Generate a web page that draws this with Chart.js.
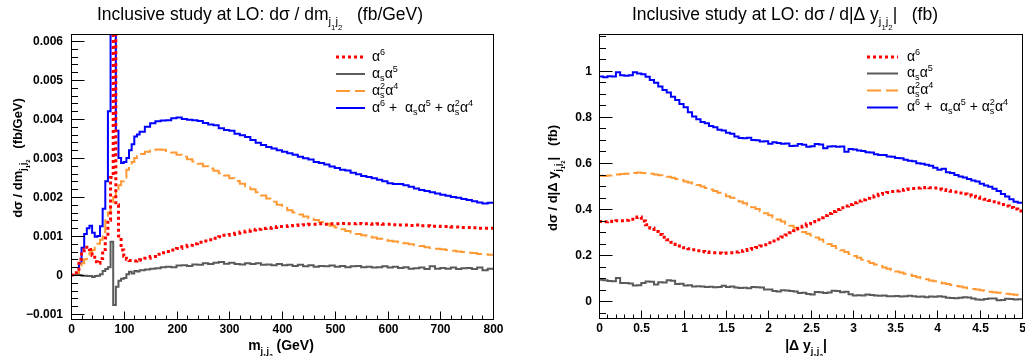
<!DOCTYPE html>
<html>
<head>
<meta charset="utf-8">
<script src="https://cdn.jsdelivr.net/npm/chart.js@4.4.1/dist/chart.umd.min.js"></script>
<style>
    body { margin: 0; background: #fff; width: 1025px; height: 356px; overflow: hidden; position: relative; }
    .pad { position: absolute; top: 0; height: 356px; }
</style>
</head>
<body>
<div class="pad" style="left:0; width:512px;"><canvas id="massChart" width="512" height="356"></canvas></div>
<div class="pad" style="left:512px; width:513px;"><canvas id="dyChart" width="513" height="356"></canvas></div>
<script>

///////////////////////////////////////
// m_jj histograms (fb/GeV): 5 GeV bins up to 130 GeV, 10 GeV bins above
const massEdges = [
    ...Array.from({ length: 26 }, (_, i) => i * 5),
    ...Array.from({ length: 68 }, (_, i) => 130 + i * 10),
]

const massAlpha6 = [
    0, 0, 0.0001, 0.0004, 0.00058, 0.00066, 0.00071, 0.00065, 0.0005, 0.00034,
    0.0003, 0.00042, 0.00065, 0.00095, 0.0014, 0.0025, 0.0075, 0.0018, 0.001, 0.00064,
    0.00048, 0.0004, 0.00037, 0.00036, 0.00036, 0.00038,
    0.00039, 0.00043, 0.00047, 0.00053, 0.00057, 0.0006, 0.00064,
    0.00068, 0.00072, 0.00076, 0.0008, 0.00084, 0.00087, 0.0009, 0.00094, 0.00098, 0.00102,
    0.00104, 0.00107, 0.0011, 0.00112, 0.00115, 0.00117, 0.00119, 0.0012, 0.00122, 0.00124,
    0.00124, 0.00126, 0.00127, 0.00128, 0.00129, 0.0013, 0.0013, 0.00131, 0.0013, 0.00131,
    0.00131, 0.00132, 0.00131, 0.00131, 0.00132, 0.00131, 0.00131, 0.0013, 0.00131, 0.0013,
    0.0013, 0.00129, 0.00128, 0.00128, 0.00127, 0.00128, 0.00126, 0.00126, 0.00125, 0.00125,
    0.00124, 0.00124, 0.00123, 0.00123, 0.00122, 0.00122, 0.00121, 0.0012, 0.0012, 0.0012,
]
const massAlphaS = [
    0, 0, 0, 0, -0.00002, -0.00002, -0.00003, -0.00003, -0.00005, -0.00003,
    -0.00002, 0.00002, 0.0001, 0.00015, 0.0002, 0.00085, -0.00077, -0.0003, -0.00015, -0.0001,
    -0.00008, 0.00002, 0.00008, 0.00004, 0.0001, 0.00009,
    0.00012, 0.00014, 0.00016, 0.00017, 0.0002, 0.00021, 0.0002,
    0.00024, 0.00025, 0.00023, 0.00027, 0.00026, 0.0003, 0.00028, 0.00031, 0.00033, 0.00029,
    0.00031, 0.00028, 0.00027, 0.0003, 0.00028, 0.0003, 0.00026, 0.00027, 0.00025, 0.00028,
    0.00025, 0.00026, 0.00023, 0.00026, 0.00022, 0.00025, 0.00021, 0.00023, 0.00022, 0.00024,
    0.00021, 0.00023, 0.0002, 0.00022, 0.00023, 0.0002, 0.00021, 0.00019, 0.0002, 0.00022,
    0.00019, 0.00021, 0.00018, 0.0002, 0.00016, 0.00017, 0.00019, 0.00015, 0.00022, 0.00016,
    0.00018, 0.00016, 0.00019, 0.00015, 0.00017, 0.00018, 0.00015, 0.00019, 0.00012, 0.00016,
]
const massAlphaS2 = [
    0, 0, 0.00005, 0.00018, 0.0003, 0.0004, 0.0005, 0.00058, 0.00064, 0.0007,
    0.0008, 0.0009, 0.0011, 0.0014, 0.0016, 0.0018, 0.002, 0.0022, 0.0023, 0.0024,
    0.0025, 0.0027, 0.0028, 0.0029, 0.003, 0.00305,
    0.0031, 0.00316, 0.0032, 0.00322, 0.00321, 0.00318, 0.00314,
    0.00308, 0.00303, 0.00297, 0.00291, 0.00285, 0.00279, 0.00273, 0.00267, 0.00261, 0.00255,
    0.00248, 0.00241, 0.00234, 0.00227, 0.0022, 0.00212, 0.00204, 0.00196, 0.00188, 0.0018,
    0.00172, 0.00166, 0.0016, 0.00155, 0.0015, 0.00145, 0.00141, 0.00136, 0.00131, 0.00126,
    0.00122, 0.00117, 0.00113, 0.00109, 0.00105, 0.00102, 0.00099, 0.00096, 0.00093, 0.0009,
    0.00088, 0.00086, 0.00083, 0.00081, 0.00079, 0.00076, 0.00074, 0.00071, 0.00069, 0.00067,
    0.00066, 0.00064, 0.00062, 0.0006, 0.00059, 0.00057, 0.00056, 0.00054, 0.00053, 0.00052,
]
const massTotal = [
    0, 0, 0.00003, 0.0003, 0.0007, 0.00105, 0.0012, 0.00126, 0.00108, 0.00098,
    0.001, 0.00125, 0.0017, 0.0024, 0.0042, 0.0075, 0.0075, 0.0037, 0.003, 0.00287,
    0.0029, 0.003, 0.0032, 0.00335, 0.00355, 0.0036,
    0.00367, 0.0038, 0.00389, 0.00394, 0.00396, 0.00397, 0.00402,
    0.00404, 0.004, 0.00398, 0.00397, 0.00395, 0.0039, 0.00386, 0.00384, 0.00376, 0.00372,
    0.0037, 0.00362, 0.00358, 0.00354, 0.00346, 0.00339, 0.00333, 0.00328, 0.00324, 0.0032,
    0.00316, 0.00312, 0.00308, 0.00303, 0.00299, 0.00296, 0.0029, 0.00287, 0.00283, 0.00278,
    0.00274, 0.0027, 0.00268, 0.00262, 0.00258, 0.00254, 0.00251, 0.00248, 0.00244, 0.0024,
    0.00235, 0.00233, 0.00233, 0.0023, 0.00226, 0.00222, 0.00218, 0.00215, 0.00212, 0.00209,
    0.00206, 0.00203, 0.002, 0.00198, 0.00195, 0.00192, 0.00189, 0.00186, 0.00183, 0.00185,
]

///////////////////////////////////////
// |Delta y_jj| histograms, 0.05 bins from 0 to 5 (fb)
const dyEdges = Array.from({ length: 101 }, (_, i) => i * 0.05)

const dyAlpha6 = [
    0.346, 0.345, 0.347, 0.346, 0.35, 0.349, 0.352, 0.356, 0.364, 0.366,
    0.348, 0.332, 0.318, 0.303, 0.29, 0.278, 0.267, 0.256, 0.247, 0.24,
    0.232, 0.228, 0.224, 0.22, 0.216, 0.214, 0.212, 0.211, 0.21, 0.209,
    0.21, 0.211, 0.214, 0.217, 0.221, 0.225, 0.229, 0.234, 0.24, 0.246,
    0.254, 0.262, 0.27, 0.279, 0.288, 0.297, 0.306, 0.316, 0.326, 0.336,
    0.345, 0.354, 0.363, 0.372, 0.381, 0.39, 0.398, 0.406, 0.413, 0.42,
    0.428, 0.435, 0.441, 0.447, 0.453, 0.458, 0.464, 0.468, 0.472, 0.476,
    0.479, 0.482, 0.485, 0.487, 0.489, 0.491, 0.493, 0.494, 0.493, 0.491,
    0.487, 0.484, 0.481, 0.477, 0.474, 0.47, 0.465, 0.461, 0.456, 0.452,
    0.447, 0.443, 0.437, 0.432, 0.426, 0.42, 0.414, 0.407, 0.4, 0.392,
]
const dyAlphaS = [
    0.094, 0.092, 0.088, 0.087, 0.101, 0.08, 0.08, 0.078, 0.069, 0.07,
    0.08, 0.086, 0.085, 0.073, 0.083, 0.082, 0.092, 0.09, 0.075, 0.076,
    0.069, 0.07, 0.065, 0.066, 0.064, 0.062, 0.063, 0.061, 0.062, 0.068,
    0.062, 0.064, 0.06, 0.058, 0.059, 0.057, 0.062, 0.061, 0.06, 0.051,
    0.052, 0.045, 0.043, 0.048, 0.047, 0.045, 0.043, 0.036, 0.037, 0.032,
    0.03, 0.041, 0.04, 0.036, 0.038, 0.046, 0.045, 0.04, 0.042, 0.031,
    0.025, 0.027, 0.026, 0.03, 0.028, 0.025, 0.024, 0.026, 0.022, 0.022,
    0.023, 0.021, 0.022, 0.024, 0.022, 0.02, 0.021, 0.018, 0.021, 0.02,
    0.022, 0.02, 0.016, 0.015, 0.014, 0.016, 0.018, 0.017, 0.012, 0.008,
    0.007, 0.01, 0.013, 0.012, 0.005, 0.006, 0.011, 0.01, 0.008, 0.009,
]
const dyAlphaS2 = [
    0.545, 0.543, 0.546, 0.548, 0.55, 0.552, 0.553, 0.555, 0.557, 0.559,
    0.557, 0.555, 0.553, 0.55, 0.547, 0.544, 0.54, 0.536, 0.531, 0.526,
    0.52, 0.515, 0.51, 0.504, 0.498, 0.492, 0.485, 0.478, 0.471, 0.464,
    0.456, 0.449, 0.441, 0.433, 0.425, 0.417, 0.408, 0.4, 0.391, 0.382,
    0.373, 0.364, 0.355, 0.346, 0.337, 0.328, 0.319, 0.31, 0.301, 0.293,
    0.286, 0.277, 0.268, 0.258, 0.249, 0.24, 0.231, 0.222, 0.214, 0.205,
    0.197, 0.189, 0.181, 0.174, 0.166, 0.16, 0.153, 0.147, 0.141, 0.135,
    0.13, 0.125, 0.12, 0.115, 0.11, 0.105, 0.1, 0.096, 0.091, 0.087,
    0.083, 0.079, 0.075, 0.071, 0.067, 0.064, 0.06, 0.057, 0.054, 0.051,
    0.048, 0.045, 0.042, 0.04, 0.037, 0.035, 0.033, 0.031, 0.029, 0.027,
]
const dyTotal = [
    0.975, 0.972, 0.976, 0.975, 0.993, 0.98, 0.978, 0.98, 0.993, 0.988,
    0.985, 0.974, 0.96, 0.948, 0.931, 0.916, 0.905, 0.887, 0.873, 0.856,
    0.842, 0.82, 0.801, 0.79, 0.778, 0.772, 0.76, 0.755, 0.744, 0.741,
    0.731, 0.727, 0.715, 0.708, 0.707, 0.709, 0.7, 0.699, 0.693, 0.694,
    0.683, 0.69, 0.687, 0.683, 0.684, 0.674, 0.675, 0.682, 0.679, 0.67,
    0.672, 0.682, 0.68, 0.664, 0.671, 0.672, 0.67, 0.671, 0.649, 0.66,
    0.658, 0.654, 0.652, 0.646, 0.645, 0.638, 0.635, 0.634, 0.628, 0.627,
    0.621, 0.62, 0.614, 0.61, 0.607, 0.599, 0.597, 0.592, 0.588, 0.579,
    0.571, 0.575, 0.56, 0.556, 0.548, 0.541, 0.537, 0.53, 0.524, 0.52,
    0.51, 0.502, 0.497, 0.488, 0.479, 0.466, 0.455, 0.443, 0.432, 0.428,
]

///////////////////////////////////////
// Line styles for the four contributions (legend order)
const seriesStyles = [
    { color: '#ff0000', width: 3, dash: [3, 3] },   // alpha^6
    { color: '#5a5a5a', width: 2, dash: [] },       // alpha_s alpha^5
    { color: '#ff9933', width: 2, dash: [14, 5] },  // alpha_s^2 alpha^4
    { color: '#0000ff', width: 2, dash: [] },       // sum
]

const FONT = '"Liberation Sans", Arial, Helvetica, sans-serif'

// rich text pieces: plain, superscript, subscript, stacked sub+sup, j1j2 subscript
const txt = (t) => ({ t })
const sup = (t) => ({ t, s: 0.65, dy: -0.42 })
const sub = (t) => ({ t, s: 0.65, dy: 0.22 })
const subsup = (lo, hi) => ({ t: lo, s: 0.65, dy: 0.22, up: hi, upDy: -0.42 })
const jj = [
    { t: 'j', s: 0.65, dy: 0.3 }, { t: '1', s: 0.45, dy: 0.62 },
    { t: 'j', s: 0.65, dy: 0.3 }, { t: '2', s: 0.45, dy: 0.62 },
]

const legendLabels = [
    [txt('α'), sup('6')],
    [txt('α'), sub('s'), txt('α'), sup('5')],
    [txt('α'), subsup('s', '2'), txt('α'), sup('4')],
    [txt('α'), sup('6'), txt(' +  '), txt('α'), sub('s'), txt('α'), sup('5'), txt(' + '),
        txt('α'), subsup('s', '2'), txt('α'), sup('4')],
]

function drawRich(ctx, parts, x, y, size, weight, align) {
    const font = (s) => `${weight} ${s}px ${FONT}`
    let total = 0
    const widths = parts.map(p => {
        ctx.font = font(size * (p.s || 1))
        let w = ctx.measureText(p.t).width
        if (p.up) w = Math.max(w, ctx.measureText(p.up).width)
        total += w
        return w
    })
    let cx = align === 'right' ? x - total : align === 'center' ? x - total / 2 : x
    ctx.textAlign = 'left'
    ctx.textBaseline = 'alphabetic'
    parts.forEach((p, i) => {
        ctx.font = font(size * (p.s || 1))
        ctx.fillText(p.t, cx, y + (p.dy || 0) * size)
        if (p.up) ctx.fillText(p.up, cx, y + p.upDy * size)
        cx += widths[i]
    })
}

function toSteps(edges, values) {
    const pts = values.map((v, i) => ({ x: edges[i], y: v }))
    pts.push({ x: edges[values.length], y: values[values.length - 1] })
    return pts
}

function fmt(v, decimals) {
    return String(+v.toFixed(decimals)).replace('-', '\u2212')
}

// Frame, inward ticks, labels, titles and legend drawn on top of the histograms
function makeFramePlugin(cfg) {
    return {
        id: 'rootFrame',
        afterDatasetsDraw(chart) {
            const { ctx, chartArea: a, scales: { x, y } } = chart
            ctx.save()
            ctx.strokeStyle = '#000'
            ctx.fillStyle = '#000'
            ctx.lineWidth = 1
            ctx.setLineDash([])

            const seg = (x0, y0, x1, y1) => {
                ctx.beginPath(); ctx.moveTo(x0, y0); ctx.lineTo(x1, y1); ctx.stroke()
            }
            const L = Math.round(a.left) + 0.5, R = Math.round(a.right) + 0.5
            const T = Math.round(a.top) + 0.5, B = Math.round(a.bottom) + 0.5
            ctx.strokeRect(L, T, R - L, B - T)

            // x axis
            for (let k = Math.ceil(x.min / cfg.xMinor - 1e-9); k <= Math.floor(x.max / cfg.xMinor + 1e-9); k++) {
                const v = k * cfg.xMinor
                const px = Math.round(x.getPixelForValue(v)) + 0.5
                const major = k % cfg.xRatio === 0
                seg(px, B, px, B - (major ? cfg.xTick : cfg.xTick / 2))
                if (major) {
                    ctx.font = `bold 12px ${FONT}`
                    ctx.textAlign = 'center'
                    ctx.textBaseline = 'alphabetic'
                    ctx.fillText(fmt(v, cfg.xDec), px, cfg.xLabelY)
                }
            }

            // y axis
            for (let k = Math.ceil(y.min / cfg.yMinor - 1e-9); k <= Math.floor(y.max / cfg.yMinor + 1e-9); k++) {
                const v = k * cfg.yMinor
                const py = Math.round(y.getPixelForValue(v)) + 0.5
                const major = k % cfg.yRatio === 0
                seg(L, py, L + (major ? cfg.yTick : cfg.yTick / 2), py)
                if (major) {
                    ctx.font = `bold 12px ${FONT}`
                    ctx.textAlign = 'right'
                    ctx.textBaseline = 'middle'
                    ctx.fillText(fmt(v, cfg.yDec), cfg.yLabelX, py + 0.5)
                }
            }

            // axis titles
            drawRich(ctx, cfg.xTitle, cfg.xTitleX, cfg.xTitleY, 14, 'bold', 'center')
            ctx.save()
            ctx.translate(cfg.yTitleX, cfg.yTitleY)
            ctx.rotate(-Math.PI / 2)
            drawRich(ctx, cfg.yTitle, 0, 0, 13, 'bold', 'center')
            ctx.restore()

            // pad title
            drawRich(ctx, cfg.title, cfg.titleX, 19.5, 17.5, 'normal', 'left')

            // legend
            legendLabels.forEach((parts, i) => {
                const st = seriesStyles[i]
                const ly = cfg.legendY[i]
                ctx.strokeStyle = st.color
                ctx.lineWidth = st.width
                ctx.setLineDash(st.dash)
                seg(cfg.legendX0, ly, cfg.legendX1, ly)
                ctx.setLineDash([])
                ctx.fillStyle = '#000'
                drawRich(ctx, parts, cfg.legendTextX, ly + 3.5, 14, 'normal', 'left')
            })
            ctx.restore()
        }
    }
}

function buildChart(canvasId, edges, seriesList, xRange, yRange, padding, cfg) {
    const datasets = seriesList.map((values, i) => ({
        data: toSteps(edges, values),
        borderColor: seriesStyles[i].color,
        borderWidth: seriesStyles[i].width,
        borderDash: seriesStyles[i].dash,
        stepped: true,
        pointRadius: 0,
        fill: false,
        clip: 0,
    }))
    return new Chart(document.getElementById(canvasId), {
        type: 'line',
        data: { datasets },
        options: {
            responsive: false,
            animation: false,
            devicePixelRatio: 1,
            layout: { padding },
            plugins: { legend: { display: false }, tooltip: { enabled: false } },
            scales: {
                x: { type: 'linear', min: xRange[0], max: xRange[1], display: false },
                y: { type: 'linear', min: yRange[0], max: yRange[1], display: false },
            },
        },
        plugins: [makeFramePlugin(cfg)],
    })
}

const massChart = buildChart('massChart', massEdges,
    [massAlpha6, massAlphaS, massAlphaS2, massTotal],
    [0, 800], [-0.00113, 0.00618],
    { left: 71, right: 19, top: 34, bottom: 37 },
    {
        xMinor: 20, xRatio: 5, xDec: 0, xTick: 8, xLabelY: 333,
        yMinor: 0.0002, yRatio: 5, yDec: 4, yTick: 13, yLabelX: 63,
        xTitle: [txt('m'), ...jj, txt(' (GeV)')], xTitleX: 281, xTitleY: 350,
        yTitle: [txt('dσ / dm'), ...jj, txt('   (fb/GeV)')], yTitleX: 22, yTitleY: 158,
        title: [txt('Inclusive study at LO: dσ / dm'), ...jj, txt('   (fb/GeV)')], titleX: 97,
        legendX0: 336, legendX1: 365, legendTextX: 372, legendY: [57, 74, 91, 108],
    })

const dyChart = buildChart('dyChart', dyEdges,
    [dyAlpha6, dyAlphaS, dyAlphaS2, dyTotal],
    [0, 5], [-0.072, 1.159],
    { left: 87, right: 3, top: 34, bottom: 38 },
    {
        xMinor: 0.1, xRatio: 5, xDec: 1, xTick: 8, xLabelY: 332,
        yMinor: 0.05, yRatio: 4, yDec: 2, yTick: 13, yLabelX: 80,
        xTitle: [txt('|Δ y'), ...jj, txt('|')], xTitleX: 294, xTitleY: 350,
        yTitle: [txt('dσ / d|Δ y'), ...jj, txt('|   (fb)')], yTitleX: 45, yTitleY: 178,
        title: [txt('Inclusive study at LO: dσ / d|Δ y'), ...jj, txt('|   (fb)')], titleX: 120,
        legendX0: 355, legendX1: 386, legendTextX: 395, legendY: [57, 73.5, 90.5, 107.5],
    })

</script>
</body>
</html>
